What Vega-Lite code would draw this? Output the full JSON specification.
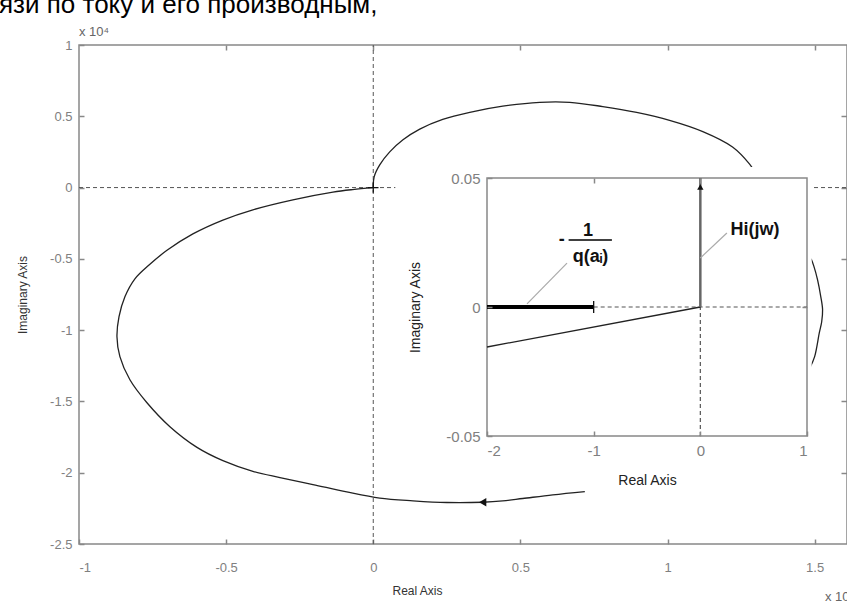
{
  "$schema": "https://vega.github.io/schema/vega-lite/v6.json",
  "width": 768,
  "height": 499,
  "autosize": "none",
  "padding": {"left": 79, "top": 45, "right": 0, "bottom": 60},
  "background": "white",
  "config": {"view": {"stroke": "#888", "strokeWidth": 1.5}, "font": "Liberation Sans"},
  "datasets": {
    "curve": [
      {"seg": "a", "i": 0, "x": 0, "y": 0},
      {"seg": "a", "i": 1, "x": 0.003, "y": 0.075},
      {"seg": "a", "i": 2, "x": 0.022, "y": 0.159},
      {"seg": "a", "i": 3, "x": 0.056, "y": 0.25},
      {"seg": "a", "i": 4, "x": 0.101, "y": 0.335},
      {"seg": "a", "i": 5, "x": 0.158, "y": 0.41},
      {"seg": "a", "i": 6, "x": 0.236, "y": 0.478},
      {"seg": "a", "i": 7, "x": 0.328, "y": 0.528},
      {"seg": "a", "i": 8, "x": 0.44, "y": 0.571},
      {"seg": "a", "i": 9, "x": 0.566, "y": 0.598},
      {"seg": "a", "i": 10, "x": 0.668, "y": 0.598},
      {"seg": "a", "i": 11, "x": 0.78, "y": 0.568},
      {"seg": "a", "i": 12, "x": 0.895, "y": 0.527},
      {"seg": "a", "i": 13, "x": 1.007, "y": 0.472},
      {"seg": "a", "i": 14, "x": 1.12, "y": 0.393},
      {"seg": "a", "i": 15, "x": 1.221, "y": 0.285},
      {"seg": "a", "i": 16, "x": 1.279, "y": 0.165},
      {"seg": "a", "i": 17, "x": 1.3, "y": 0.1},
      {"seg": "b", "i": 0, "x": 1.488, "y": -0.5},
      {"seg": "b", "i": 1, "x": 1.497, "y": -0.549},
      {"seg": "b", "i": 2, "x": 1.51, "y": -0.647},
      {"seg": "b", "i": 3, "x": 1.521, "y": -0.766},
      {"seg": "b", "i": 4, "x": 1.527, "y": -0.857},
      {"seg": "b", "i": 5, "x": 1.524, "y": -0.941},
      {"seg": "b", "i": 6, "x": 1.516, "y": -1.018},
      {"seg": "b", "i": 7, "x": 1.5, "y": -1.186},
      {"seg": "b", "i": 8, "x": 1.485, "y": -1.26},
      {"seg": "c", "i": 0, "x": 0.719, "y": -2.132},
      {"seg": "c", "i": 1, "x": 0.61, "y": -2.155},
      {"seg": "c", "i": 2, "x": 0.508, "y": -2.181},
      {"seg": "c", "i": 3, "x": 0.44, "y": -2.198},
      {"seg": "c", "i": 4, "x": 0.372, "y": -2.207},
      {"seg": "c", "i": 5, "x": 0.25, "y": -2.209},
      {"seg": "c", "i": 6, "x": 0.135, "y": -2.197},
      {"seg": "c", "i": 7, "x": 0.022, "y": -2.178},
      {"seg": "c", "i": 8, "x": -0.09, "y": -2.135},
      {"seg": "c", "i": 9, "x": -0.205, "y": -2.083},
      {"seg": "c", "i": 10, "x": -0.317, "y": -2.034},
      {"seg": "c", "i": 11, "x": -0.409, "y": -1.99},
      {"seg": "c", "i": 12, "x": -0.511, "y": -1.915},
      {"seg": "c", "i": 13, "x": -0.599, "y": -1.822},
      {"seg": "c", "i": 14, "x": -0.691, "y": -1.677},
      {"seg": "c", "i": 15, "x": -0.769, "y": -1.509},
      {"seg": "c", "i": 16, "x": -0.827, "y": -1.348},
      {"seg": "c", "i": 17, "x": -0.861, "y": -1.186},
      {"seg": "c", "i": 18, "x": -0.871, "y": -1.046},
      {"seg": "c", "i": 19, "x": -0.864, "y": -0.906},
      {"seg": "c", "i": 20, "x": -0.844, "y": -0.766},
      {"seg": "c", "i": 21, "x": -0.81, "y": -0.64},
      {"seg": "c", "i": 22, "x": -0.763, "y": -0.545},
      {"seg": "c", "i": 23, "x": -0.701, "y": -0.44},
      {"seg": "c", "i": 24, "x": -0.613, "y": -0.325},
      {"seg": "c", "i": 25, "x": -0.511, "y": -0.228},
      {"seg": "c", "i": 26, "x": -0.409, "y": -0.156},
      {"seg": "c", "i": 27, "x": -0.273, "y": -0.086},
      {"seg": "c", "i": 28, "x": -0.137, "y": -0.032},
      {"seg": "c", "i": 29, "x": -0.07, "y": -0.014},
      {"seg": "c", "i": 30, "x": 0, "y": 0}
    ],
    "mainRules": [
      {"x": -1, "x2": 1.61, "y": 0, "y2": 0},
      {"x": 0, "x2": 0, "y": -2.5, "y2": 1}
    ],
    "cover": [{"x": 0.075, "x2": 1.49, "y": 0.145, "y2": -2.104}],
    "arrow": [{"x": 0.372, "y": -2.207}],
    "origin": [{"x": 0, "y": 0}],
    "mainText": [
      {"x": -1, "y": 1, "t": "x 10⁴", "pos": "top"},
      {"x": 1.535, "y": -2.5, "t": "x 10⁵", "pos": "bottom"}
    ],
    "pageText": [{"x": -1, "y": 1, "t": "язи по току и его производным,"}],
    "box": [{"x": -2, "x2": 1, "y": -0.05, "y2": 0.05}],
    "insetDashed": [
      {"x": -1, "x2": 1, "y": 0, "y2": 0, "k": "h"},
      {"x": 0, "x2": 0, "y": -0.05, "y2": 0, "k": "v"}
    ],
    "thick": [{"x": -2, "x2": -1, "y": 0, "y2": 0}],
    "slant": [{"x": -2, "x2": 0, "y": -0.0155, "y2": 0}],
    "vert": [{"x": 0, "x2": 0, "y": 0, "y2": 0.05}],
    "leaders": [
      {"x": -1.625, "x2": -1.25, "y": 0.0012, "y2": 0.017},
      {"x": 0.0, "x2": 0.249, "y": 0.019, "y2": 0.0287}
    ],
    "fracBar": [{"x": -1.235, "x2": -0.829, "y": 0.026, "y2": 0.026}],
    "insetText": [
      {"x": 0.512, "y": 0.0298, "t": "Hi(jw)"},
      {"x": -1.053, "y": 0.0295, "t": "1"},
      {"x": -1.03, "y": 0.0193, "t": "q(aᵢ)"},
      {"x": -1.3, "y": 0.026, "t": "-"}
    ],
    "insetTick": [{"x": -1, "y": 0}],
    "insetArrow": [{"x": 0, "y": 0.0465}]
  },
  "layer": [
    {
      "layer": [
        {
          "data": {"name": "mainRules"},
          "mark": {"type": "rule", "color": "#555", "strokeWidth": 1, "strokeDash": [4, 3]},
          "encoding": {
            "x": {"field": "x", "type": "quantitative", "scale": {"domain": [-1, 1.61], "nice": false, "zero": false},
              "axis": {"values": [-1, -0.5, 0, 0.5, 1, 1.5], "orient": "bottom", "title": "Real Axis", "grid": false, "domain": false, "tickSize": -5, "tickColor": "#888", "tickWidth": 1.5, "labelColor": "#808080", "labelFontSize": 13, "labelPadding": 22, "labelExpr": "'' + datum.value", "titleColor": "#333", "titleFontSize": 12, "titleFontWeight": "normal", "titleX": 338, "titleY": 46, "titleBaseline": "middle"}},
            "x2": {"field": "x2"},
            "y": {"field": "y", "type": "quantitative", "scale": {"domain": [-2.5, 1], "nice": false, "zero": false},
              "axis": {"values": [-2.5, -2, -1.5, -1, -0.5, 0, 0.5, 1], "orient": "left", "title": "Imaginary Axis", "grid": false, "domain": false, "tickSize": -5, "tickColor": "#888", "tickWidth": 1.5, "labelColor": "#808080", "labelFontSize": 13, "labelPadding": 12, "labelExpr": "'' + datum.value", "titleColor": "#333", "titleFontSize": 12, "titleFontWeight": "normal", "titleX": -57, "titleBaseline": "middle"}},
            "y2": {"field": "y2"}
          }
        },
        {
          "data": {"name": "curve"},
          "mark": {"type": "line", "color": "#222", "strokeWidth": 1.3, "interpolate": "catmull-rom"},
          "encoding": {
            "x": {"field": "x", "type": "quantitative"},
            "y": {"field": "y", "type": "quantitative"},
            "detail": {"field": "seg"},
            "order": {"field": "i", "type": "quantitative"}
          }
        },
        {
          "data": {"name": "cover"},
          "mark": {"type": "rect", "fill": "white", "stroke": null},
          "encoding": {
            "x": {"field": "x", "type": "quantitative"},
            "x2": {"field": "x2"},
            "y": {"field": "y", "type": "quantitative"},
            "y2": {"field": "y2"}
          }
        },
        {
          "data": {"name": "arrow"},
          "mark": {"type": "point", "shape": "triangle-left", "filled": true, "color": "#111", "size": 70, "opacity": 1},
          "encoding": {
            "x": {"field": "x", "type": "quantitative"},
            "y": {"field": "y", "type": "quantitative"}
          }
        },
        {
          "data": {"name": "origin"},
          "mark": {"type": "point", "shape": "M-1,0L1,0M0,-1L0,1", "filled": false, "color": "#111", "strokeWidth": 1.3, "size": 110, "opacity": 1},
          "encoding": {
            "x": {"field": "x", "type": "quantitative"},
            "y": {"field": "y", "type": "quantitative"}
          }
        },
        {
          "data": {"name": "mainText"},
          "transform": [{"filter": "datum.pos == 'top'"}],
          "mark": {"type": "text", "align": "left", "baseline": "middle", "dy": -13, "fontSize": 13, "color": "#666"},
          "encoding": {
            "x": {"field": "x", "type": "quantitative"},
            "y": {"field": "y", "type": "quantitative"},
            "text": {"field": "t"}
          }
        },
        {
          "data": {"name": "mainText"},
          "transform": [{"filter": "datum.pos == 'bottom'"}],
          "mark": {"type": "text", "align": "left", "baseline": "middle", "dy": 53, "fontSize": 13, "color": "#666"},
          "encoding": {
            "x": {"field": "x", "type": "quantitative"},
            "y": {"field": "y", "type": "quantitative"},
            "text": {"field": "t"}
          }
        },
        {
          "data": {"name": "pageText"},
          "mark": {"type": "text", "align": "left", "baseline": "alphabetic", "dx": -80, "dy": -32, "fontSize": 26, "color": "#000"},
          "encoding": {
            "x": {"field": "x", "type": "quantitative"},
            "y": {"field": "y", "type": "quantitative"},
            "text": {"field": "t"}
          }
        }
      ]
    },
    {
      "data": {"name": "mainRules"},
      "mark": {"type": "rule", "opacity": 0},
      "encoding": {
        "x": {"field": "x", "type": "quantitative", "scale": {"domain": [-1, 1.61], "nice": false, "zero": false},
          "axis": {"values": [-0.5, 0, 0.5, 1, 1.5], "orient": "top", "title": null, "labels": false, "grid": false, "domain": false, "tickSize": -5, "tickColor": "#888", "tickWidth": 1.5}},
        "x2": {"field": "x2"},
        "y": {"field": "y", "type": "quantitative", "scale": {"domain": [-2.5, 1], "nice": false, "zero": false},
          "axis": {"values": [-2, -1.5, -1, -0.5, 0, 0.5], "orient": "right", "title": null, "labels": false, "grid": false, "domain": false, "tickSize": -6, "tickColor": "#888", "tickWidth": 1.5}},
        "y2": {"field": "y2"}
      }
    },
    {
      "layer": [
        {
          "data": {"name": "box"},
          "mark": {"type": "rect", "fill": "white", "stroke": "#888", "strokeWidth": 1.5},
          "encoding": {
            "x": {"field": "x", "type": "quantitative", "scale": {"domain": [-2, 1], "range": [408, 728], "nice": false, "zero": false},
              "axis": {"values": [-2, -1, 0, 1], "orient": "bottom", "offset": -108, "zindex": 1, "title": "Real Axis", "grid": false, "domain": false, "tickSize": -5, "tickColor": "#888", "tickWidth": 1.5, "labelColor": "#808080", "labelFontSize": 15, "labelPadding": 12, "labelExpr": "'' + datum.value", "titleColor": "#222", "titleFontSize": 14, "titleFontWeight": "normal", "titleY": 44, "titleBaseline": "middle"}},
            "x2": {"field": "x2"},
            "y": {"field": "y", "type": "quantitative", "scale": {"domain": [-0.05, 0.05], "range": [391, 133], "nice": false, "zero": false},
              "axis": {"values": [-0.05, 0, 0.05], "orient": "left", "offset": -408, "zindex": 1, "title": "Imaginary Axis", "grid": false, "domain": false, "tickSize": -5, "tickColor": "#888", "tickWidth": 1.5, "labelColor": "#808080", "labelFontSize": 15, "labelPadding": 12, "labelExpr": "'' + datum.value", "titleColor": "#222", "titleFontSize": 14, "titleFontWeight": "normal", "titleX": -72, "titleBaseline": "middle"}},
            "y2": {"field": "y2"}
          }
        },
        {
          "data": {"name": "insetDashed"},
          "mark": {"type": "rule", "color": "#555", "strokeWidth": 1.2, "strokeDash": [4, 3]},
          "encoding": {
            "x": {"field": "x", "type": "quantitative"},
            "x2": {"field": "x2"},
            "y": {"field": "y", "type": "quantitative"},
            "y2": {"field": "y2"}
          }
        },
        {
          "data": {"name": "slant"},
          "mark": {"type": "rule", "color": "#222", "strokeWidth": 1.3},
          "encoding": {
            "x": {"field": "x", "type": "quantitative"},
            "x2": {"field": "x2"},
            "y": {"field": "y", "type": "quantitative"},
            "y2": {"field": "y2"}
          }
        },
        {
          "data": {"name": "thick"},
          "mark": {"type": "rule", "color": "#000", "strokeWidth": 4},
          "encoding": {
            "x": {"field": "x", "type": "quantitative"},
            "x2": {"field": "x2"},
            "y": {"field": "y", "type": "quantitative"},
            "y2": {"field": "y2"}
          }
        },
        {
          "data": {"name": "vert"},
          "mark": {"type": "rule", "color": "#666", "strokeWidth": 2.5},
          "encoding": {
            "x": {"field": "x", "type": "quantitative"},
            "x2": {"field": "x2"},
            "y": {"field": "y", "type": "quantitative"},
            "y2": {"field": "y2"}
          }
        },
        {
          "data": {"name": "leaders"},
          "mark": {"type": "rule", "color": "#aaa", "strokeWidth": 1.2},
          "encoding": {
            "x": {"field": "x", "type": "quantitative"},
            "x2": {"field": "x2"},
            "y": {"field": "y", "type": "quantitative"},
            "y2": {"field": "y2"}
          }
        },
        {
          "data": {"name": "fracBar"},
          "mark": {"type": "rule", "color": "#000", "strokeWidth": 1.5},
          "encoding": {
            "x": {"field": "x", "type": "quantitative"},
            "x2": {"field": "x2"},
            "y": {"field": "y", "type": "quantitative"},
            "y2": {"field": "y2"}
          }
        },
        {
          "data": {"name": "insetTick"},
          "mark": {"type": "point", "shape": "M0,-1L0,1", "filled": false, "color": "#111", "strokeWidth": 1.3, "size": 144, "opacity": 1},
          "encoding": {
            "x": {"field": "x", "type": "quantitative"},
            "y": {"field": "y", "type": "quantitative"}
          }
        },
        {
          "data": {"name": "insetArrow"},
          "mark": {"type": "point", "shape": "triangle-up", "filled": true, "color": "#111", "size": 40, "opacity": 1},
          "encoding": {
            "x": {"field": "x", "type": "quantitative"},
            "y": {"field": "y", "type": "quantitative"}
          }
        },
        {
          "data": {"name": "insetText"},
          "mark": {"type": "text", "align": "center", "baseline": "middle", "fontSize": 18, "fontWeight": "bold", "color": "#111"},
          "encoding": {
            "x": {"field": "x", "type": "quantitative"},
            "y": {"field": "y", "type": "quantitative"},
            "text": {"field": "t"}
          }
        }
      ]
    },
    {
      "data": {"name": "box"},
      "mark": {"type": "rule", "opacity": 0},
      "encoding": {
        "x": {"field": "x", "type": "quantitative", "scale": {"domain": [-2, 1], "range": [408, 728], "nice": false, "zero": false},
          "axis": {"values": [-1, 0], "orient": "top", "offset": -133, "zindex": 1, "title": null, "labels": false, "grid": false, "domain": false, "tickSize": -5, "tickColor": "#888", "tickWidth": 1.5}},
        "x2": {"field": "x2"},
        "y": {"field": "y", "type": "quantitative", "scale": {"domain": [-0.05, 0.05], "range": [391, 133], "nice": false, "zero": false},
          "axis": {"values": [0], "orient": "right", "offset": -40, "zindex": 1, "title": null, "labels": false, "grid": false, "domain": false, "tickSize": -5, "tickColor": "#888", "tickWidth": 1.5}},
        "y2": {"field": "y2"}
      }
    }
  ],
  "resolve": {"scale": {"x": "independent", "y": "independent"}, "axis": {"x": "independent", "y": "independent"}}
}
